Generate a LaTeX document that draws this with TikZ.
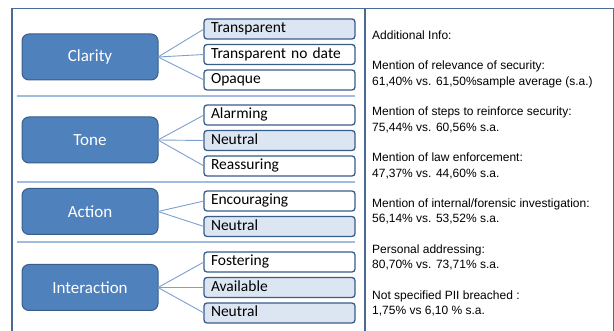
\documentclass[tikz,border=0pt]{standalone}
\usepackage{fontspec}
\setmainfont{Carlito}
\newfontfamily\infofont{Liberation Sans}
\usetikzlibrary{positioning}
\definecolor{my_blue}{RGB}{79, 129, 189}
\definecolor{my_darkblue}{RGB}{56, 93, 138}
\definecolor{my_paleblue}{RGB}{220, 230, 242}
\definecolor{my_lineblue}{RGB}{124, 160, 206}
\definecolor{my_sepblue}{RGB}{160, 188, 222}
\definecolor{my_frame}{RGB}{76, 106, 150}
\tikzset {
  category/.style = {draw=my_darkblue, line width=1pt, fill=my_blue, rounded corners=7pt, rectangle, minimum width=136pt, minimum height=46pt, text=white, font=\fontsize{17}{20}\selectfont, outer sep=0pt},
  item/.style = {draw=my_darkblue, line width=1.3pt, fill=white, rounded corners=3pt, rectangle, minimum width=151pt, minimum height=20pt, text width=137pt, align=left, inner xsep=7pt, inner ysep=0pt, text height=11pt, text depth=3.5pt, font=\fontsize{15.5}{18}\selectfont, outer sep=0pt},
  link/.style = {draw=my_lineblue, line width=0.9pt},
  divider/.style = {draw=my_sepblue, line width=1.2pt},
  info/.style = {inner sep=0pt, align=left, font=\infofont\fontsize{12}{15.3}\selectfont}
}

\begin{document}
\begin{tikzpicture}[x=1pt, y=-1pt, node distance=5.5pt]
    \useasboundingbox (0,0) rectangle (614,331);

    % frame and panels
    \draw[my_frame, line width=1.6pt] (12,8.5) rectangle (613.5,345);
    \draw[my_frame, line width=1.6pt] (365,8.5) -- (365,345);

    \draw[divider] (17,96) -- (355,96);
    \draw[divider] (17,182) -- (355,182);
    \draw[divider] (17,242) -- (355,242);

    % clarity
    \node[category, name=clarity] (clarity) at (90,57) {Clarity};
    \node[item, fill=my_paleblue, name=transp] (transp) at (279.5,29) {Transparent};
    \node[item, name=nodate, below=of transp] (nodate) {Transparent no date};
    \node[item, name=opaque, below=of nodate] (opaque) {Opaque};

    \draw[link] (clarity.east) -- (transp.west);
    \draw[link] (clarity.east) -- (nodate.west);
    \draw[link] (clarity.east) -- (opaque.west);

    % tone
    \node[category, name=tone] (tone) at (90,140) {Tone};
    \node[item, name=alarm] (alarm) at (279.5,115) {Alarming};
    \node[item, fill=my_paleblue, name=toneneutral, below=of alarm] (toneneutral) {Neutral};
    \node[item, name=reassure, below=of toneneutral] (reassure) {Reassuring};

    \draw[link] (tone.east) -- (alarm.west);
    \draw[link] (tone.east) -- (toneneutral.west);
    \draw[link] (tone.east) -- (reassure.west);

    % action
    \node[category, name=action] (action) at (90,211.5) {Action};
    \node[item, name=encourage] (encourage) at (279.5,201) {Encouraging};
    \node[item, fill=my_paleblue, name=actneutral, below=of encourage] (actneutral) {Neutral};

    \draw[link] (action.east) -- (encourage.west);
    \draw[link] (action.east) -- (actneutral.west);

    % interaction
    \node[category, name=interaction] (interaction) at (90,287.5) {Interaction};
    \node[item, name=foster] (foster) at (279.5,262) {Fostering};
    \node[item, fill=my_paleblue, name=avail, below=of foster] (avail) {Available};
    \node[item, fill=my_paleblue, name=intneutral, below=of avail] (intneutral) {Neutral};

    \draw[link] (interaction.east) -- (foster.west);
    \draw[link] (interaction.east) -- (avail.west);
    \draw[link] (interaction.east) -- (intneutral.west);

    % additional info
    \node[info, anchor=north west, name=info] (info) at (372,30.5) {Additional Info:\\[15.3pt]
      Mention of relevance of security:\\
      61,40\% vs. 61,50\%sample average (s.a.)\\[15.3pt]
      Mention of steps to reinforce security:\\
      75,44\% vs. 60,56\% s.a.\\[15.3pt]
      Mention of law enforcement:\\
      47,37\% vs. 44,60\% s.a.\\[15.3pt]
      Mention of internal/forensic investigation:\\
      56,14\% vs. 53,52\% s.a.\\[15.3pt]
      Personal addressing:\\
      80,70\% vs. 73,71\% s.a.\\[15.3pt]
      Not specified PII breached :\\
      1,75\% vs 6,10 \% s.a.};

\end{tikzpicture}
\end{document}
